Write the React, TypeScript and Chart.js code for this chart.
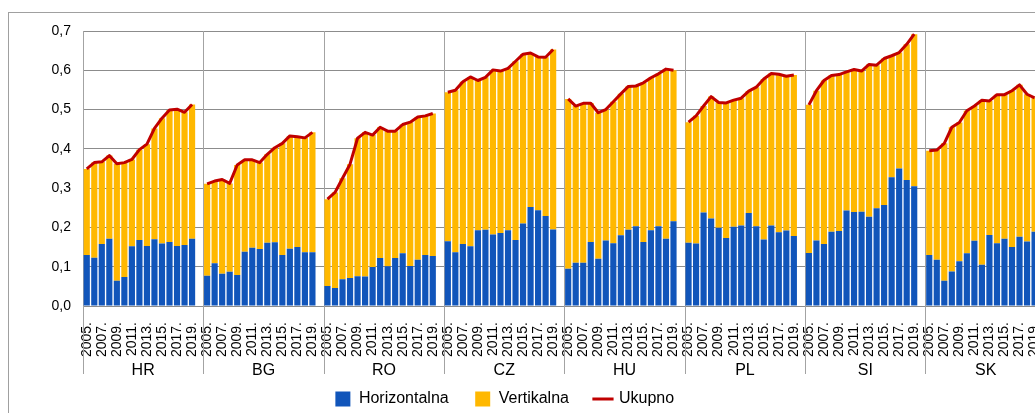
import React, { useEffect, useRef } from 'react';
import { Chart, registerables } from 'chart.js';

Chart.register(...registerables);

// ---- Data ----
const countries = ['HR', 'BG', 'RO', 'CZ', 'HU', 'PL', 'SI', 'SK'];
const years = ['2005.', '2006.', '2007.', '2008.', '2009.', '2010.', '2011.', '2012.', '2013.', '2014.', '2015.', '2016.', '2017.', '2018.', '2019.'];
const yTicks = [0, 0.1, 0.2, 0.3, 0.4, 0.5, 0.6, 0.7];

// Horizontalna (blue) per country
const hrHorizontal = [0.130, 0.123, 0.158, 0.171, 0.064, 0.074, 0.152, 0.168, 0.153, 0.170, 0.159, 0.163, 0.153, 0.155, 0.171];
const bgHorizontal = [0.077, 0.109, 0.082, 0.087, 0.079, 0.138, 0.148, 0.145, 0.161, 0.162, 0.130, 0.146, 0.150, 0.137, 0.137];
const roHorizontal = [0.051, 0.046, 0.068, 0.071, 0.076, 0.075, 0.099, 0.122, 0.101, 0.122, 0.134, 0.102, 0.118, 0.130, 0.127];
const czHorizontal = [0.165, 0.137, 0.158, 0.152, 0.193, 0.194, 0.182, 0.186, 0.193, 0.168, 0.210, 0.252, 0.244, 0.229, 0.195];
const huHorizontal = [0.095, 0.110, 0.110, 0.163, 0.120, 0.167, 0.160, 0.180, 0.194, 0.203, 0.163, 0.193, 0.203, 0.171, 0.216];
const plHorizontal = [0.161, 0.159, 0.238, 0.223, 0.199, 0.173, 0.202, 0.205, 0.237, 0.203, 0.169, 0.205, 0.188, 0.192, 0.178];
const siHorizontal = [0.135, 0.167, 0.158, 0.189, 0.191, 0.243, 0.239, 0.240, 0.227, 0.249, 0.257, 0.328, 0.350, 0.321, 0.305];
const skHorizontal = [0.130, 0.118, 0.064, 0.088, 0.114, 0.134, 0.166, 0.105, 0.181, 0.160, 0.171, 0.150, 0.176, 0.164, 0.189];

// Ukupno (total, top of each bar) per country
const hrTotal = [0.349, 0.365, 0.367, 0.383, 0.362, 0.365, 0.373, 0.398, 0.412, 0.452, 0.478, 0.499, 0.501, 0.493, 0.513];
const bgTotal = [0.311, 0.318, 0.322, 0.312, 0.359, 0.372, 0.372, 0.365, 0.386, 0.403, 0.414, 0.433, 0.431, 0.428, 0.442];
const roTotal = [0.272, 0.289, 0.325, 0.361, 0.427, 0.442, 0.435, 0.455, 0.445, 0.445, 0.462, 0.468, 0.481, 0.484, 0.490];
const czTotal = [0.544, 0.549, 0.571, 0.583, 0.574, 0.582, 0.601, 0.598, 0.605, 0.623, 0.641, 0.644, 0.634, 0.633, 0.653];
const huTotal = [0.527, 0.509, 0.516, 0.516, 0.492, 0.500, 0.520, 0.540, 0.559, 0.560, 0.568, 0.581, 0.591, 0.603, 0.600];
const plTotal = [0.468, 0.484, 0.509, 0.533, 0.518, 0.517, 0.524, 0.529, 0.547, 0.557, 0.578, 0.592, 0.590, 0.585, 0.588];
const siTotal = [0.512, 0.548, 0.574, 0.587, 0.589, 0.596, 0.602, 0.598, 0.615, 0.613, 0.630, 0.637, 0.645, 0.666, 0.692];
const skTotal = [0.395, 0.397, 0.414, 0.455, 0.467, 0.497, 0.509, 0.524, 0.522, 0.538, 0.538, 0.548, 0.563, 0.539, 0.530];

const horizontalByCountry = [hrHorizontal, bgHorizontal, roHorizontal, czHorizontal, huHorizontal, plHorizontal, siHorizontal, skHorizontal];
const totalByCountry = [hrTotal, bgTotal, roTotal, czTotal, huTotal, plTotal, siTotal, skTotal];

// ---- Build the flat category table (15 years + one empty slot per country) ----
const SLOTS = years.length + 1;
const labels: string[] = [];
const hData: (number | null)[] = [];
const vData: (number | null)[] = [];
const tData: (number | null)[] = [];
countries.forEach((_, g) => {
  years.forEach((y, i) => {
    labels.push(y);
    hData.push(horizontalByCountry[g][i]);
    vData.push(+(totalByCountry[g][i] - horizontalByCountry[g][i]).toFixed(3));
    tData.push(totalByCountry[g][i]);
  });
  labels.push('');
  hData.push(null);
  vData.push(null);
  tData.push(null);
});

const BLUE = '#1155BA';
const ORANGE = '#FFB800';
const RED = '#C00000';
const FONT = '"Liberation Sans", Arial, sans-serif';

const groupAxisPlugin = {
  id: 'groupAxis',
  beforeDatasetsDraw(chart: any) {
    const { ctx, chartArea, scales } = chart;
    const x = scales.x;
    const half = (x.getPixelForValue(1) - x.getPixelForValue(0)) / 2;
    ctx.save();
    ctx.strokeStyle = '#a3a3a3';
    ctx.lineWidth = 1;
    for (let g = 0; g <= countries.length; g++) {
      const px = Math.round(x.getPixelForValue(g * SLOTS) - half) + 0.5;
      ctx.beginPath();
      ctx.moveTo(px, chartArea.top);
      ctx.lineTo(px, chartArea.bottom + 68);
      ctx.stroke();
    }
    ctx.fillStyle = '#000';
    ctx.font = `16px ${FONT}`;
    ctx.textAlign = 'center';
    ctx.textBaseline = 'middle';
    countries.forEach((c, g) => {
      const cx = (x.getPixelForValue(g * SLOTS) + x.getPixelForValue(g * SLOTS + SLOTS - 1)) / 2;
      ctx.fillText(c, cx, chartArea.bottom + 65);
    });
    ctx.restore();
  },
};

export default function App() {
  const canvasRef = useRef<HTMLCanvasElement | null>(null);

  useEffect(() => {
    if (!canvasRef.current) return;
    Chart.defaults.font.family = FONT;
    const chart = new Chart(canvasRef.current, {
      type: 'bar',
      data: {
        labels,
        datasets: [
          {
            type: 'bar',
            label: 'Horizontalna',
            data: hData,
            backgroundColor: BLUE,
            stack: 'bars',
            order: 1,
            barPercentage: 0.82,
            categoryPercentage: 1,
          } as any,
          {
            type: 'bar',
            label: 'Vertikalna',
            data: vData,
            backgroundColor: ORANGE,
            stack: 'bars',
            order: 1,
            barPercentage: 0.82,
            categoryPercentage: 1,
          } as any,
          {
            type: 'line',
            label: 'Ukupno',
            data: tData,
            borderColor: RED,
            backgroundColor: RED,
            borderWidth: 3,
            pointRadius: 0,
            tension: 0,
            spanGaps: false,
            borderJoinStyle: 'round',
            stack: 'total',
            order: 0,
          } as any,
        ],
      },
      options: {
        responsive: false,
        animation: false,
        events: [],
        layout: { padding: { left: 0, right: 28, top: 31, bottom: 0 } },
        scales: {
          x: {
            stacked: true,
            grid: { display: false, drawTicks: false },
            border: { display: false },
            ticks: {
              autoSkip: false,
              minRotation: 90,
              maxRotation: 90,
              padding: 16,
              color: '#000',
              font: { size: 14 },
              callback: (_v: any, i: number) => (i % SLOTS) % 2 === 0 ? labels[i] : '',
            },
            afterFit: (s: any) => { s.height = 59; },
          },
          y: {
            stacked: true,
            min: 0,
            max: 0.7,
            afterBuildTicks: (s: any) => { s.ticks = yTicks.map((v) => ({ value: v })); },
            grid: { color: '#8c8c8c', lineWidth: 1, drawTicks: false },
            border: { display: false },
            ticks: {
              padding: 12,
              color: '#000',
              font: { size: 14 },
              callback: (v: any) => Number(v).toFixed(1).replace('.', ','),
            },
            afterFit: (s: any) => { s.width = 121; },
          },
        },
        plugins: {
          tooltip: { enabled: false },
          legend: {
            position: 'bottom',
            labels: {
              usePointStyle: true,
              boxWidth: 16,
              boxHeight: 15,
              padding: 26,
              color: '#000',
              font: { size: 16 },
              sort: (a: any, b: any) => a.datasetIndex - b.datasetIndex,
              generateLabels: (c: any) =>
                Chart.defaults.plugins.legend.labels.generateLabels(c).map((l: any) => {
                  const isLine = l.datasetIndex === 2;
                  return {
                    ...l,
                    pointStyle: isLine ? 'line' : 'rect',
                    lineWidth: isLine ? 3 : 0,
                    strokeStyle: isLine ? RED : l.strokeStyle,
                    fillStyle: isLine ? RED : l.fillStyle,
                  };
                }),
            },
          },
        },
      } as any,
      plugins: [groupAxisPlugin],
    });
    return () => chart.destroy();
  }, []);

  return (
    <div style={{ position: 'fixed', left: 0, top: 0, width: 1035, height: 413, overflow: 'hidden', background: '#fff' }}>
      <div style={{ position: 'absolute', left: 8, top: 12, width: 2000, height: 1000, borderLeft: '1px solid #a0a0a0', borderTop: '1px solid #a0a0a0' }} />
      <canvas ref={canvasRef} width={1113} height={417} style={{ position: 'absolute', left: -38, top: 0 }} />
    </div>
  );
}
